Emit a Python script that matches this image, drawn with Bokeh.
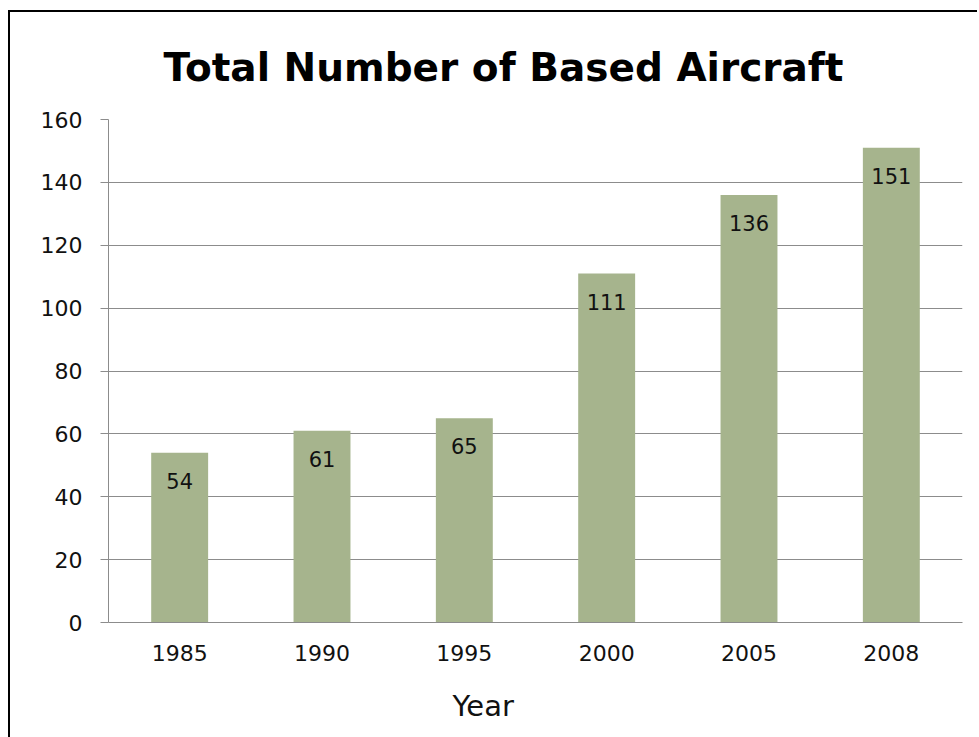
from bokeh.plotting import figure
from bokeh.models import ColumnDataSource, FactorRange, Range1d, FixedTicker, Title
from bokeh.core.properties import value
from bokeh.embed import file_html
from bokeh.resources import INLINE

years = ["1985", "1990", "1995", "2000", "2005", "2008"]
aircraft = [54, 61, 65, 111, 136, 151]
y_ticks = [0, 20, 40, 60, 80, 100, 120, 140, 160]
title_text = "Total Number of Based Aircraft"
x_title = "Year"

FONT = "DejaVu Sans"
BAR = "#A6B48D"
GRID = "#8c8c8c"

src = ColumnDataSource(dict(year=years, n=aircraft, lab=[str(v) for v in aircraft]))

p = figure(x_range=FactorRange(*years), y_range=Range1d(0, 160),
           width=967, height=723, output_backend="svg", toolbar_location=None,
           min_border_left=98, min_border_right=15, min_border_top=107, min_border_bottom=113,
           frame_width=854, frame_height=503)
p.styles = {"border-left": "2px solid black", "border-top": "2px solid black",
            "margin-left": "8px", "margin-top": "10px"}
p.outline_line_color = None
p.background_fill_color = "white"
p.border_fill_color = "white"

p.vbar(x="year", top="n", width=0.4, source=src, fill_color=BAR, line_color=None)
p.text(x="year", y="n", text="lab", source=src, y_offset=28,
       text_align="center", text_baseline="middle", text_font=value(FONT),
       text_font_size="21px", text_color="#111111")

p.yaxis.ticker = FixedTicker(ticks=y_ticks)
p.yaxis.major_label_text_font = FONT
p.yaxis.major_label_text_font_size = "22px"
p.yaxis.major_label_text_color = "#111111"
p.yaxis.major_tick_out = 8
p.yaxis.major_tick_in = 0
p.yaxis.minor_tick_line_color = None
p.yaxis.major_label_standoff = 18
p.yaxis.axis_line_color = GRID
p.yaxis.major_tick_line_color = GRID

p.xaxis.major_label_text_font = FONT
p.xaxis.major_label_text_font_size = "22px"
p.xaxis.major_label_text_color = "#111111"
p.xaxis.major_tick_line_color = None
p.xaxis.major_label_standoff = 16
p.xaxis.axis_line_color = GRID

p.xgrid.grid_line_color = None
p.ygrid.grid_line_color = GRID
p.ygrid.grid_line_width = 1

p.title.text = title_text
p.title.text_font = FONT
p.title.text_font_style = "bold"
p.title.text_font_size = "39px"
p.title.align = "left"
p.title.offset = 55
p.title.standoff = 60
p.title.text_color = "#000000"

p.add_layout(Title(text=x_title, text_font=FONT, text_font_style="normal",
                   text_font_size="29px", align="left", offset=344, standoff=46,
                   text_color="#111111"), "below")

open("out.html", "w").write(file_html(p, INLINE))
